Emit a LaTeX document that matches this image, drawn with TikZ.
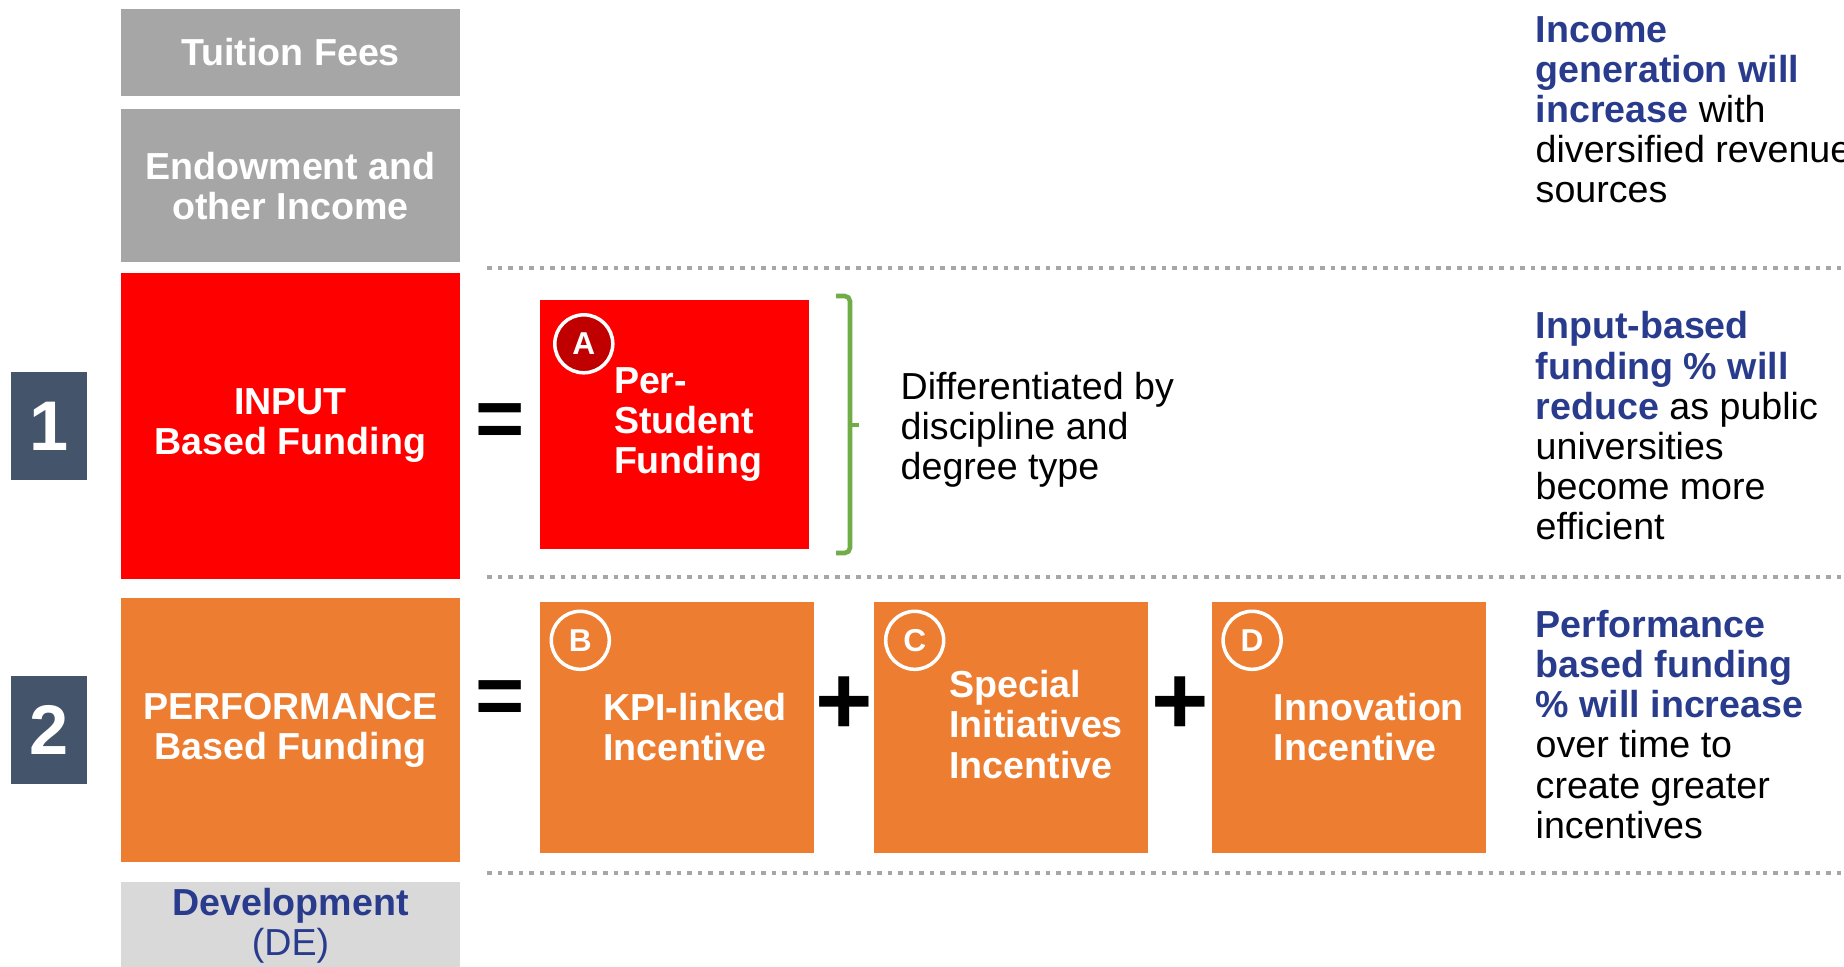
\documentclass[tikz,border=0pt]{standalone}
\usepackage{fontspec}
\setmainfont{Liberation Sans}
\usepackage{tikz}
\usetikzlibrary{positioning, calc}
\definecolor{mygray}{RGB}{166,166,166}
\definecolor{mylight}{RGB}{217,217,217}
\definecolor{myred}{RGB}{255,0,0}
\definecolor{mydarkred}{RGB}{192,0,0}
\definecolor{myorange}{RGB}{237,125,49}
\definecolor{myslate}{RGB}{68,84,106}
\definecolor{myblue}{RGB}{41,59,140}
\definecolor{mygreen}{RGB}{112,173,71}
\newcommand{\keytext}[1]{\textcolor{myblue}{\bfseries #1}}
\tikzset{
  srcbox/.style={rectangle, fill=mygray, text=white, minimum width=3.39cm,
    align=center, inner sep=0pt, font=\fontsize{10.7}{11.4}\selectfont\bfseries},
  fundbox/.style={rectangle, text=white, minimum width=3.39cm,
    align=center, inner sep=0pt, font=\fontsize{10.7}{11.4}\selectfont\bfseries},
  numbox/.style={rectangle, fill=myslate, text=white, minimum width=0.76cm,
    minimum height=1.08cm, inner sep=0pt, font=\fontsize{20}{20}\selectfont\bfseries},
  partbox/.style={rectangle, fill=myorange, minimum width=2.74cm,
    minimum height=2.51cm, inner sep=0pt},
  parttext/.style={anchor=west, align=left, inner sep=0pt, text=white,
    font=\fontsize{10.7}{11.4}\selectfont\bfseries},
  tag/.style={circle, draw=white, line width=1pt, minimum size=0.58cm,
    inner sep=0pt, text=white, font=\fontsize{9}{9}\selectfont\bfseries},
  opsign/.style={inner sep=0pt, font=\fontsize{24}{24}\selectfont\bfseries},
  note/.style={anchor=west, align=left, inner sep=0pt,
    font=\fontsize{10.7}{11.4}\selectfont},
  dotline/.style={color=mygray, line width=1.2pt, dash pattern=on 1.3pt off 1.7pt},
  bracket/.style={draw=mygreen, line width=1.3pt}
}

\begin{document}
\begin{tikzpicture}
  \useasboundingbox (0,0) rectangle (18.44,-9.66);
  % funding sources, left column
  \node[srcbox, minimum height=0.87cm] (tuition) at (2.905,-0.525) {Tuition Fees};
  \node[srcbox, minimum height=1.53cm, below=0.12cm of tuition] (endow) {Endowment and\\other Income};
  \node[fundbox, fill=myred, minimum height=3.06cm, below=0.09cm of endow] (input) {INPUT\\Based Funding};
  \node[fundbox, fill=myorange, minimum height=2.64cm, below=0.18cm of input] (perf) {PERFORMANCE\\Based Funding};
  \node[fundbox, fill=mylight, text=myblue, minimum height=0.88cm, below=0.18cm of perf] (dev) {Development\\{\mdseries (DE)}};
  \shade[left color=mylight, right color=gray] ($(dev.south west)+(0,-0.02)$) rectangle ++(3.64,0.04);
  % row numbers
  \node[numbox, left=0.33cm of input] (one) {1};
  \node[numbox, left=0.33cm of perf] (two) {2};

  % components
  \node[partbox, fill=myred, minimum width=2.69cm, minimum height=2.49cm] (boxA) at (6.745,-4.245) {};
  \node[partbox] (boxB) at (6.77,-7.275) {};
  \node[partbox, right=0.59cm of boxB] (boxC) {};
  \node[partbox, right=0.62cm of boxC] (boxD) {};
  \node[tag, fill=mydarkred] (tagA) at ($(boxA.north west)+(0.445,-0.445)$) {A};
  \node[tag, fill=myorange] (tagB) at ($(boxB.north west)+(0.41,-0.39)$) {B};
  \node[tag, fill=myorange] (tagC) at ($(boxC.north west)+(0.41,-0.39)$) {C};
  \node[tag, fill=myorange] (tagD) at ($(boxD.north west)+(0.41,-0.39)$) {D};
  \node[parttext, right=0.74cm of boxA.west] (txtA) {Per-\\Student\\Funding};
  \node[parttext, right=0.63cm of boxB.west] (txtB) {KPI-linked\\Incentive};
  \node[parttext, right=0.75cm of boxC.west, yshift=0.03cm] (txtC) {Special\\Initiatives\\Incentive};
  \node[parttext, right=0.62cm of boxD.west] (txtD) {Innovation\\Incentive};

  % = and + signs
  \node[opsign] (eq1) at ($(input.east)!0.5!(boxA.west)$) {=};
  \node[opsign] (eq2) at (5.00,-7.03) {=};
  \node[opsign, font=\fontsize{28}{28}\selectfont\bfseries, yshift=0.22cm] (plus1) at ($(boxB.east)!0.5!(boxC.west)$) {+};
  \node[opsign, font=\fontsize{28}{28}\selectfont\bfseries, yshift=0.22cm] (plus2) at ($(boxC.east)!0.5!(boxD.west)$) {+};

  % bracket on the per-student box
  \coordinate (tip) at (8.59,-4.25);
  \draw[bracket, rounded corners=1.5pt] (8.36,-2.96) -- (8.50,-2.96) -- (8.50,-5.53) -- (8.36,-5.53);
  \draw[bracket] (8.50,-4.25) -- (tip);
  \node[note] (diff) at (9.00,-4.30) {Differentiated by\\discipline and\\degree type};

  % row separators
  \draw[dotline] (4.87,-2.68) -- (18.44,-2.68);
  \draw[dotline] (4.87,-5.77) -- (18.44,-5.77);
  \draw[dotline] (4.87,-8.73) -- (18.44,-8.73);

  % outlook notes on the right
  \node[note] (incnote) at (15.35,-1.094) {\keytext{Income}\\\keytext{generation will}\\\keytext{increase} with\\diversified revenue\\sources};
  \node[note] (inpnote) at (15.35,-4.257) {\keytext{Input-based}\\\keytext{funding \% will}\\\keytext{reduce} as public\\universities\\become more\\efficient};
  \node[note] (prfnote) at (15.35,-7.245) {\keytext{Performance}\\\keytext{based funding}\\\keytext{\% will increase}\\over time to\\create greater\\incentives};
\end{tikzpicture}
\end{document}
